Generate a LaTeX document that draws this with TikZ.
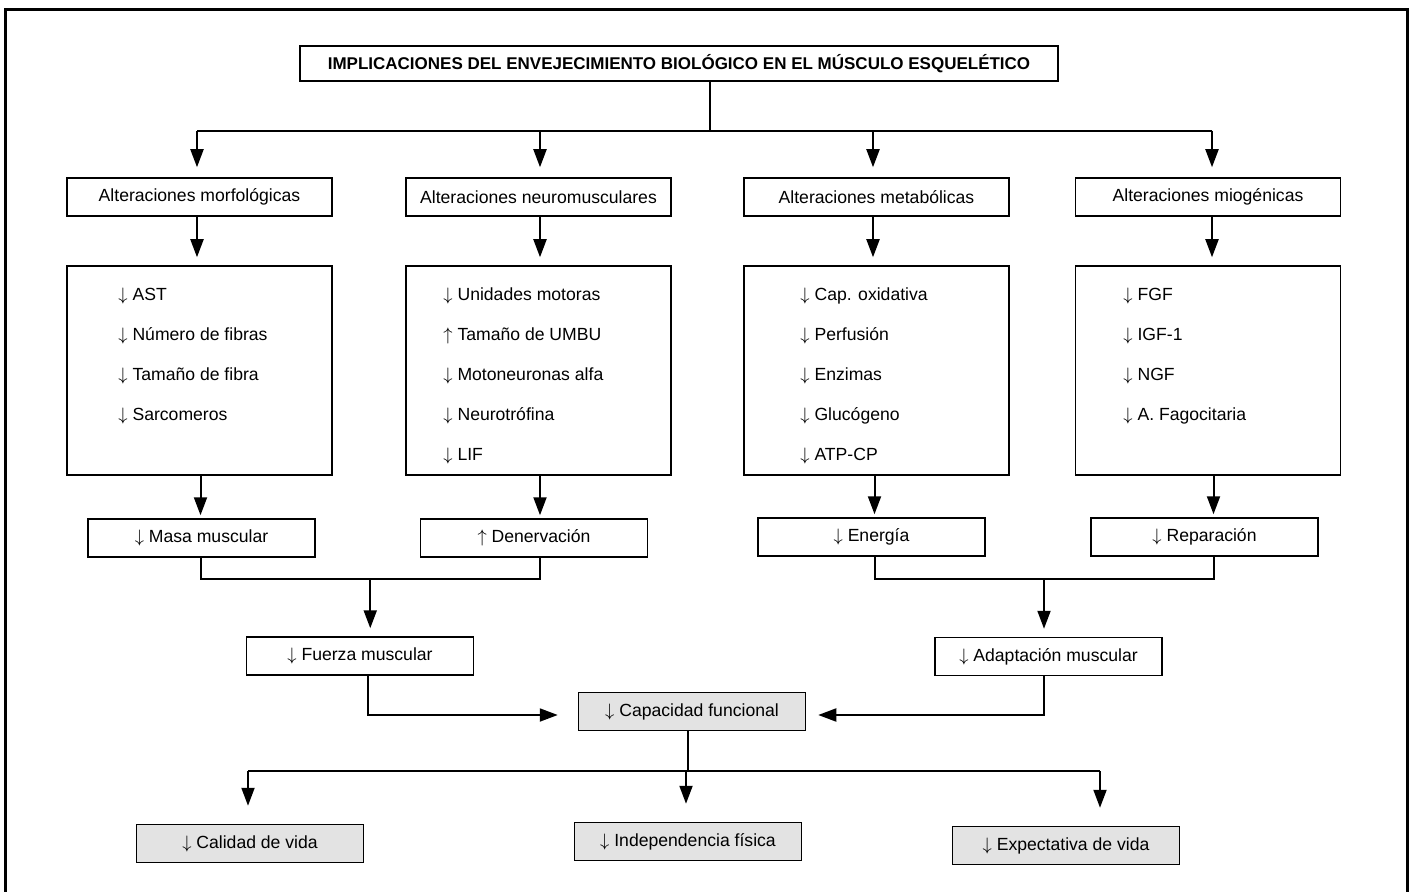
\documentclass[tikz,border=0pt]{standalone}
\usepackage{fontspec}
\setmainfont{Liberation Sans}
\usetikzlibrary{arrows.meta,calc}
\newcommand{\arrD}{$\downarrow$\ }
\newcommand{\arrU}{$\uparrow$\ }
\begin{document}
\begin{tikzpicture}[x=0.5pt,y=-0.5pt,
  txt/.style={font=\fontsize{8.8}{10}\selectfont},
  box/.style={draw,line width=0.75pt,minimum width=132.5pt,minimum height=19pt,inner sep=0pt,txt},
  sbox/.style={box,minimum width=113.5pt},
  gbox/.style={sbox,fill=black!11},
  tall/.style={box,minimum height=104.5pt},
  item/.style={anchor=base west,inner sep=0pt,txt},
  conn/.style={line width=1pt},
  arr/.style={conn,-{Triangle[length=9pt,width=6.5pt]},shorten >=4pt}]
\useasboundingbox (0,0) rectangle (1412,892);
\draw[line width=1.5pt] (5,892) -- (5,10) -- (1407,10) -- (1407,892);

\node[draw,line width=0.75pt,minimum width=379pt,minimum height=17.5pt,inner sep=0pt,font=\fontsize{8.5}{9}\selectfont\bfseries] (title) at (679,63.5) {IMPLICACIONES DEL ENVEJECIMIENTO BIOLÓGICO EN EL MÚSCULO ESQUELÉTICO};

\node[box] (a1) at (199.5,197) {Alteraciones morfológicas};
\node[box] (a2) at (538.5,197) {Alteraciones neuromusculares};
\node[box] (a3) at (876.5,197) {Alteraciones metabólicas};
\node[box] (a4) at (1208,197) {Alteraciones miogénicas};

\node[tall] (b1) at (199.5,370.5) {};
\node[tall] (b2) at (538.5,370.5) {};
\node[tall] (b3) at (876.5,370.5) {};
\node[tall] (b4) at (1208,370.5) {};

\node[item] (b1i1) at (118,301) {\arrD AST};
\node[item] (b1i2) at (118,341) {\arrD Número de fibras};
\node[item] (b1i3) at (118,381) {\arrD Tamaño de fibra};
\node[item] (b1i4) at (118,421) {\arrD Sarcomeros};

\node[item] (b2i1) at (443,301) {\arrD Unidades motoras};
\node[item] (b2i2) at (443,341) {\arrU Tamaño de UMBU};
\node[item] (b2i3) at (443,381) {\arrD Motoneuronas alfa};
\node[item] (b2i4) at (443,421) {\arrD Neurotrófina};
\node[item] (b2i5) at (443,461) {\arrD LIF};

\node[item] (b3i1) at (800,301) {\arrD Cap. oxidativa};
\node[item] (b3i2) at (800,341) {\arrD Perfusión};
\node[item] (b3i3) at (800,381) {\arrD Enzimas};
\node[item] (b3i4) at (800,421) {\arrD Glucógeno};
\node[item] (b3i5) at (800,461) {\arrD ATP-CP};

\node[item] (b4i1) at (1123,301) {\arrD FGF};
\node[item] (b4i2) at (1123,341) {\arrD IGF-1};
\node[item] (b4i3) at (1123,381) {\arrD NGF};
\node[item] (b4i4) at (1123,421) {\arrD A. Fagocitaria};

\node[sbox] (c1) at (201.5,538) {\arrD Masa muscular};
\node[sbox] (c2) at (534,538) {\arrU Denervación};
\node[sbox] (c3) at (871.5,537) {\arrD Energía};
\node[sbox] (c4) at (1204.5,537) {\arrD Reparación};

\node[sbox] (f) at (360,656) {\arrD Fuerza muscular};
\node[sbox] (ad) at (1048.5,656.5) {\arrD Adaptación muscular};
\node[gbox] (cap) at (692,711.5) {\arrD Capacidad funcional};

\node[gbox] (q1) at (250,843.5) {\arrD Calidad de vida};
\node[gbox] (q2) at (688,841.5) {\arrD Independencia física};
\node[gbox] (q3) at (1066,845.5) {\arrD Expectativa de vida};

% title bus
\coordinate (t0) at ($(title.south)+(31,0)$);
\coordinate (bus) at ($(t0)+(0,49)$);
\draw[conn] (t0) -- (bus);
\coordinate (a1t) at ($(a1.north)+(-2.5,0)$);
\coordinate (a2t) at ($(a2.north)+(1.5,0)$);
\coordinate (a3t) at ($(a3.north)+(-3.5,0)$);
\coordinate (a4t) at ($(a4.north)+(4,0)$);
\draw[conn] (a1t |- bus) -- (a4t |- bus);
\foreach \i in {1,...,4} {
  \draw[arr,shorten >=5pt] (a\i t |- bus) -- (a\i t);
  \draw[arr] (a\i t |- a\i.south) -- (a\i t |- b\i.north);
}
\coordinate (c1t) at ($(c1.north)+(-1,0)$);
\coordinate (c2t) at ($(c2.north)+(6,0)$);
\coordinate (c3t) at ($(c3.north)+(3,0)$);
\coordinate (c4t) at ($(c4.north)+(9,0)$);
\foreach \i in {1,...,4} {
  \draw[arr,shorten >=1.5pt] (c\i t |- b\i.south) -- (c\i t);
}

% merges
\coordinate (mL) at ($(c1t |- c1.south)!0.5!(c2t |- c2.south)+(0,21)$);
\draw[conn] (c1t |- c1.south) |- (mL) -| (c2t |- c2.south);
\draw[arr,shorten >=4pt] (mL) -- (mL |- f.north);
\coordinate (mR) at ($(c3t |- c3.south)!0.5!(c4t |- c4.south)+(0,22)$);
\draw[conn] (c3t |- c3.south) |- (mR) -| (c4t |- c4.south);
\draw[arr,shorten >=4pt] (mR) -- (mR |- ad.north);

\coordinate (capL) at ($(cap.west)+(0,3.5)$);
\coordinate (capR) at ($(cap.east)+(0,3.5)$);
\draw[arr,shorten >=10pt] ($(f.south)+(8,0)$) |- (capL);
\draw[arr,shorten >=6pt] ($(ad.south)+(-5,0)$) |- (capR);

\coordinate (bus2) at ($(cap.south)+(-4,40)$);
\coordinate (q1t) at ($(q1.north)+(-2,0)$);
\coordinate (q2t) at ($(q2.north)+(-2,0)$);
\coordinate (q3t) at ($(q3.north)+(34,0)$);
\draw[conn] (bus2 |- cap.south) -- (bus2);
\draw[conn] (q1t |- bus2) -- (q3t |- bus2);
\foreach \i in {1,2,3} {
  \draw[arr,shorten >=9pt] (q\i t |- bus2) -- (q\i t);
}
\end{tikzpicture}
\end{document}
